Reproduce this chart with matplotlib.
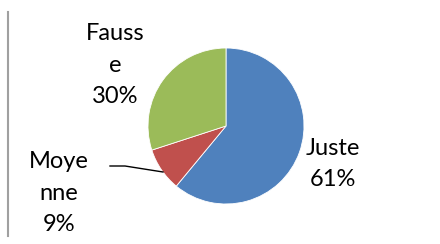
import matplotlib
matplotlib.use("Agg")
import matplotlib.pyplot as plt

# --- Data ---
categories = ["Juste", "Moyenne", "Fausse"]
percents = [61, 9, 30]
label_lines = ["Juste\n61%", "Moye\nnne\n9%", "Fauss\ne\n30%"]
colors = ["#4F81BD", "#C0504D", "#9BBB59"]

W, H = 440, 244
fig = plt.figure(figsize=(W / 100, H / 100), dpi=100)
ax = fig.add_axes([0, 0, 1, 1])

# pie in pixel coordinates (y measured from bottom)
cx, cy, r = 226, H - 126, 78
ax.pie(percents, colors=colors, startangle=90, counterclock=False,
       center=(cx, cy), radius=r, frame=True,
       wedgeprops=dict(edgecolor="white", linewidth=0.6))
ax.set_xlim(0, W)
ax.set_ylim(0, H)
ax.set_aspect("equal")
ax.axis("off")

# label positions (pixel centers, top-down y)
label_pos = [(333, 164), (59, 193), (115, 65)]
for text, (x, y) in zip(label_lines, label_pos):
    ax.text(x, H - y, text, ha="center", va="center", fontsize=17,
            family="Lato", color="black", linespacing=1.6)

# leader line for the small slice
ax.plot([110, 125, 163], [H - 166, H - 166, H - 172], color="black", lw=1)

# left border line
ax.plot([8, 8], [H - 12, H - 236], color="#A0A0A0", lw=1.5)

fig.savefig("out.png", dpi=100)
